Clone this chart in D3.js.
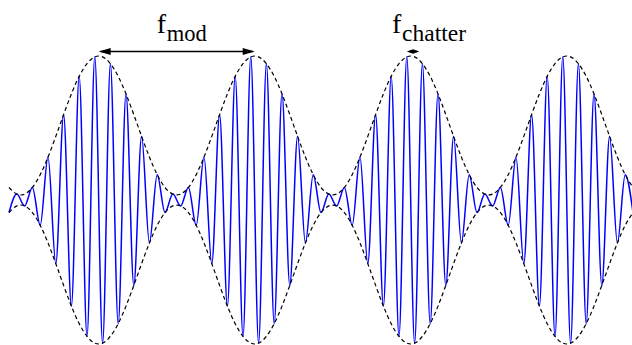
<!DOCTYPE html>
<html>
<head>
<meta charset="utf-8">
<script src="https://cdn.jsdelivr.net/npm/d3@7"></script>
</head>
<body style="margin:0">
<svg id="chart" width="632" height="345"></svg>
<script>
// Sample instants (in carrier periods) at the extrema of the chatter signal
const sampleTimes = [
  0, 0.5, 1, 1.5, 2, 2.5, 3, 3.5, 4, 4.5, 5, 5.5, 6, 6.5, 7, 7.5, 8, 8.5, 9, 9.5,
  10, 10.5, 11, 11.5, 12, 12.5, 13, 13.5, 14, 14.5, 15, 15.5, 16, 16.5, 17, 17.5, 18, 18.5, 19, 19.5,
  20, 20.5, 21, 21.5, 22, 22.5, 23, 23.5, 24, 24.5, 25, 25.5, 26, 26.5, 27, 27.5, 28, 28.5, 29, 29.5,
  30, 30.5, 31, 31.5, 32, 32.5, 33, 33.5, 34, 34.5, 35, 35.5, 36, 36.5, 37, 37.5, 38, 38.5, 39, 39.5,
  40
];

// Signal value at each extremum (normalised amplitude)
const signal = [
  -0.087, 0.041, -0.041, 0.087, -0.176, 0.298, -0.442, 0.593, -0.737, 0.859,
  -0.947, 0.994, -0.994, 0.947, -0.859, 0.737, -0.593, 0.442, -0.298, 0.176,
  -0.087, 0.041, -0.041, 0.087, -0.176, 0.298, -0.442, 0.593, -0.737, 0.859,
  -0.947, 0.994, -0.994, 0.947, -0.859, 0.737, -0.593, 0.442, -0.298, 0.176,
  -0.087, 0.041, -0.041, 0.087, -0.176, 0.298, -0.442, 0.593, -0.737, 0.859,
  -0.947, 0.994, -0.994, 0.947, -0.859, 0.737, -0.593, 0.442, -0.298, 0.176,
  -0.087, 0.041, -0.041, 0.087, -0.176, 0.298, -0.442, 0.593, -0.737, 0.859,
  -0.947, 0.994, -0.994, 0.947, -0.859, 0.737, -0.593, 0.442, -0.298, 0.176,
  -0.087
];

// Modulation envelope at the same instants (upper branch; lower branch is its mirror)
const envelope = [
  0.087, 0.041, 0.041, 0.087, 0.176, 0.298, 0.442, 0.593, 0.737, 0.859,
  0.947, 0.994, 0.994, 0.947, 0.859, 0.737, 0.593, 0.442, 0.298, 0.176,
  0.087, 0.041, 0.041, 0.087, 0.176, 0.298, 0.442, 0.593, 0.737, 0.859,
  0.947, 0.994, 0.994, 0.947, 0.859, 0.737, 0.593, 0.442, 0.298, 0.176,
  0.087, 0.041, 0.041, 0.087, 0.176, 0.298, 0.442, 0.593, 0.737, 0.859,
  0.947, 0.994, 0.994, 0.947, 0.859, 0.737, 0.593, 0.442, 0.298, 0.176,
  0.087, 0.041, 0.041, 0.087, 0.176, 0.298, 0.442, 0.593, 0.737, 0.859,
  0.947, 0.994, 0.994, 0.947, 0.859, 0.737, 0.593, 0.442, 0.298, 0.176,
  0.087
];

// Annotations: the span each arrow covers (in carrier periods) and its label subscript
const annotationNames = ["mod", "chatter"];
const annotationStart = [5.75, 25.5];
const annotationEnd   = [15.75, 26.3];

const svg = d3.select("#chart");
const W = 632, H = 345;

svg.append("rect").attr("width", W).attr("height", H).attr("fill", "#fff");

const x = d3.scaleLinear().domain([0, 40]).range([9, 633]);
const y = d3.scaleLinear().domain([-1, 1]).range([344, 56]);

const sigPts = sampleTimes.map((t, i) => [t, signal[i]]);
const envUp = sampleTimes.map((t, i) => [t, envelope[i]]);
const envDn = sampleTimes.map((t, i) => [t, -envelope[i]]);

// carrier signal
svg.append("path")
  .datum(sigPts)
  .attr("fill", "none")
  .attr("stroke", "#0000ff")
  .attr("stroke-width", 1.5)
  .attr("stroke-linejoin", "round")
  .attr("d", d3.line().x(d => x(d[0])).y(d => y(d[1])).curve(d3.curveMonotoneX));

// dashed envelope
const envLine = d3.line().x(d => x(d[0])).y(d => y(d[1])).curve(d3.curveNatural);
[envUp, envDn].forEach(pts => {
  svg.append("path")
    .datum(pts)
    .attr("fill", "none")
    .attr("stroke", "#000")
    .attr("stroke-width", 1.2)
    .attr("stroke-dasharray", "4,3")
    .attr("d", envLine);
});

// double-headed arrows with subscripted frequency labels
const arrowY = y(1) - 4.5;
function head(tipX, dir, len, hw) {
  return `M${tipX},${arrowY} L${tipX + dir * len},${arrowY - hw} L${tipX + dir * len},${arrowY + hw} Z`;
}

annotationNames.forEach((name, i) => {
  const x0 = x(annotationStart[i]);
  const x1 = x(annotationEnd[i]);
  const span = x1 - x0;
  const len = Math.min(12, span / 2);
  const hw = span > 30 ? 3.6 : 2.3;
  svg.append("line")
    .attr("x1", x0 + 2).attr("x2", x1 - 2)
    .attr("y1", arrowY).attr("y2", arrowY)
    .attr("stroke", "#000").attr("stroke-width", 1.3);
  svg.append("path").attr("d", head(x0, 1, len, hw)).attr("fill", "#000");
  svg.append("path").attr("d", head(x1, -1, len, hw)).attr("fill", "#000");

  // "f" and its subscript as two text runs
  const mid = (x0 + x1) / 2;
  const fx = name === "mod" ? mid - 20 : mid - 21;
  svg.append("text")
    .attr("x", fx).attr("y", 33)
    .style("font-family", '"Liberation Serif"')
    .style("font-size", "28px")
    .text("f");
  svg.append("text")
    .attr("x", fx + 10).attr("y", 41)
    .style("font-family", '"Liberation Serif"')
    .style("font-size", name === "mod" ? "22.5px" : "23.5px")
    .text(name);
});
</script>
</body>
</html>
